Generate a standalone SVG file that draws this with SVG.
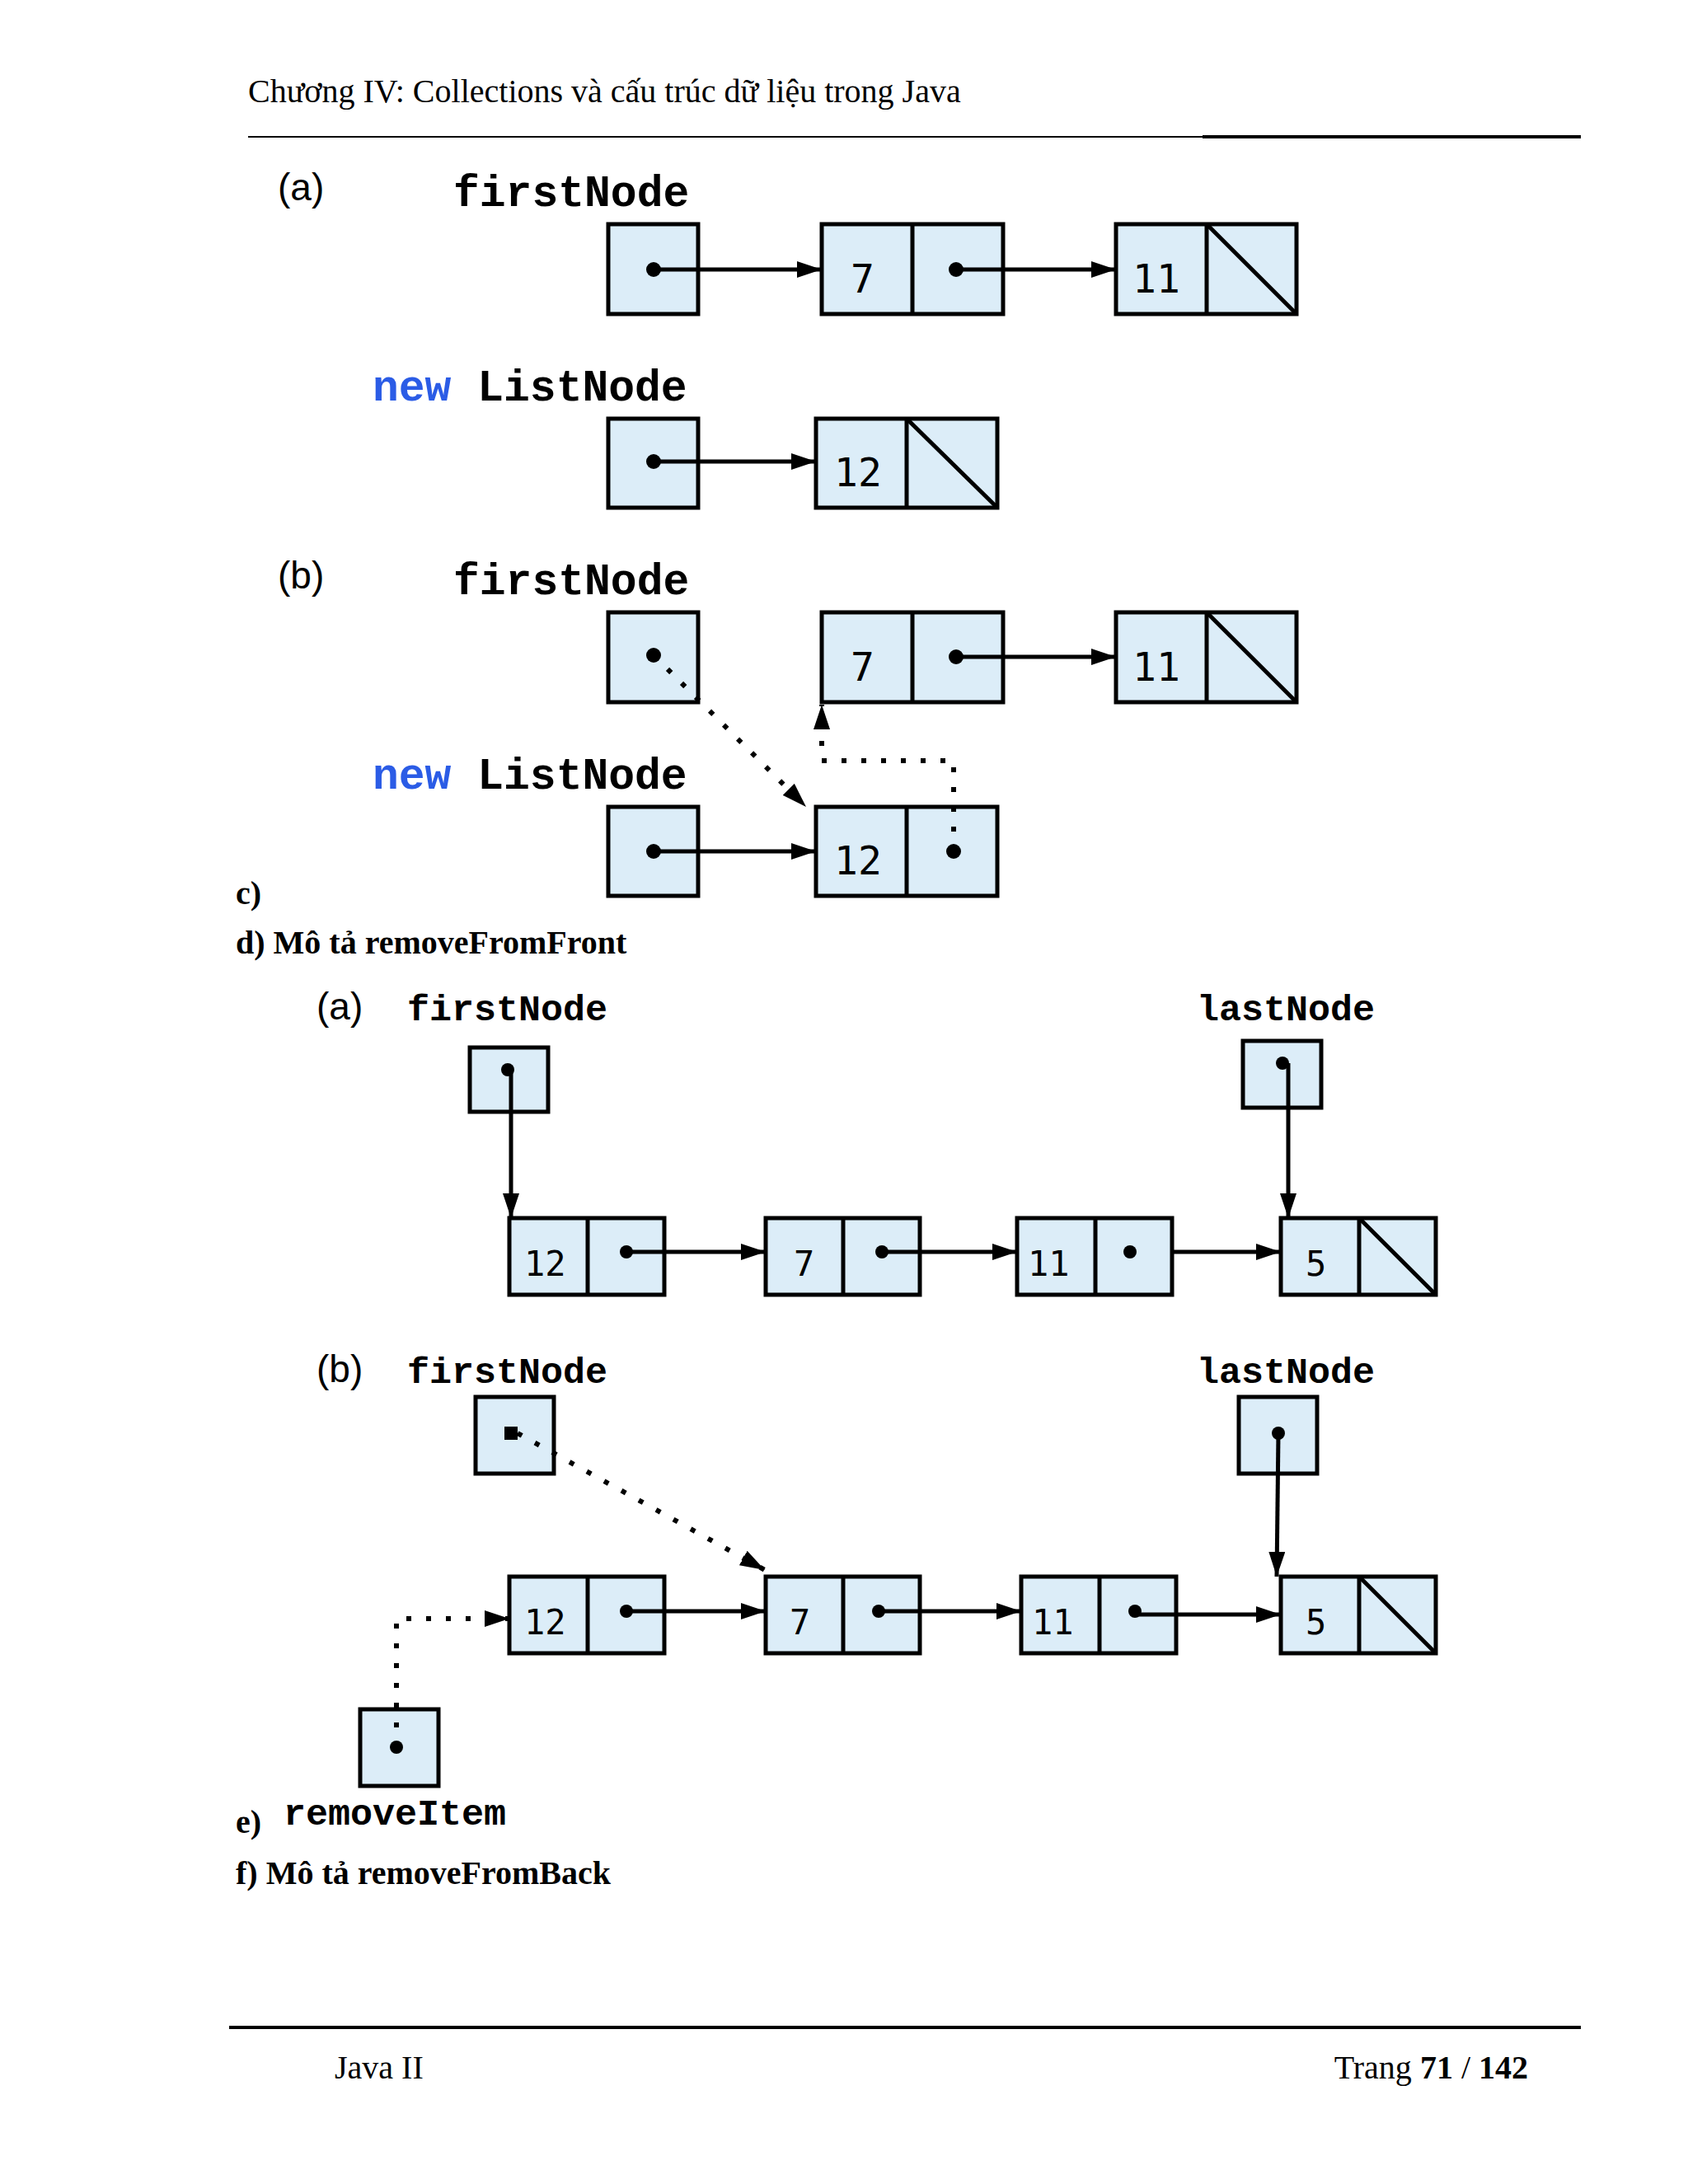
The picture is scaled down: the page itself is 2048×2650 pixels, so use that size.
<svg xmlns="http://www.w3.org/2000/svg" width="2048" height="2650" viewBox="0 0 2048 2650">
<style>
.bx{fill:#dcedf8;stroke:#000;stroke-width:5}
.dv{stroke:#000;stroke-width:5}
.ln{stroke:#000;stroke-width:5;fill:none}
.dt{stroke:#000;stroke-width:6;fill:none;stroke-dasharray:6 18}
.lb{font-family:"Liberation Mono",monospace;font-weight:bold;font-size:53px}
.lb2{font-family:"Liberation Mono",monospace;font-weight:bold;font-size:45px}
.num{font-family:"DejaVu Sans Mono",monospace;font-size:48px}
.num2{font-family:"DejaVu Sans Mono",monospace;font-size:42px}
.par{font-family:"Liberation Sans",sans-serif;font-size:46px}
.tm{font-family:"Liberation Serif",serif;font-size:40px}
.tb{font-family:"Liberation Serif",serif;font-size:40px;font-weight:bold}
</style>
<defs>
<marker id="ah" markerWidth="10" markerHeight="8" refX="9" refY="4" orient="auto" markerUnits="userSpaceOnUse" viewBox="0 0 10 8"><path d="M0,0 L10,4 L0,8z"/></marker>
<marker id="ahb" markerWidth="30" markerHeight="20" refX="30" refY="10" orient="auto" markerUnits="userSpaceOnUse"><path d="M0,0 L30,10 L0,20z"/></marker>
</defs>
<rect width="2048" height="2650" fill="#fff"/>
<g id="header">
<text x="301" y="124" class="tm">Chương IV: Collections và cấu trúc dữ liệu trong Java</text>
<line x1="301" y1="166" x2="1459" y2="166" stroke="#000" stroke-width="2"/>
<line x1="1459" y1="166" x2="1918" y2="166" stroke="#000" stroke-width="4"/>
</g>
<g id="labels">
<text x="337" y="243" class="par">(a)</text>
<text x="550" y="250" class="lb">firstNode</text>
<text x="452" y="486" class="lb"><tspan fill="#2b5ce6">new</tspan> ListNode</text>
<text x="337" y="714" class="par">(b)</text>
<text x="550" y="721" class="lb">firstNode</text>
<text x="452" y="957" class="lb"><tspan fill="#2b5ce6">new</tspan> ListNode</text>
<text x="286" y="1097" class="tb">c)</text>
<text x="286" y="1157" class="tb">d) Mô tả removeFromFront</text>
<text x="384" y="1237" class="par" font-size="40">(a)</text>
<text x="494" y="1238" class="lb2">firstNode</text>
<text x="1452" y="1238" class="lb2">lastNode</text>
<text x="384" y="1677" class="par" font-size="40">(b)</text>
<text x="494" y="1678" class="lb2">firstNode</text>
<text x="1452" y="1678" class="lb2">lastNode</text>
<text x="286" y="2224" class="tb">e)</text>
<text x="344" y="2214" class="lb2">removeItem</text>
<text x="286" y="2286" class="tb">f) Mô tả removeFromBack</text>
</g>
<g id="top-a">
<rect x="738" y="272" width="109" height="109" class="bx"/>
<rect x="997" y="272" width="220" height="109" class="bx"/><line x1="1107" y1="272" x2="1107" y2="381" class="dv"/>
<text x="1032" y="355" class="num">7</text>
<rect x="1354" y="272" width="219" height="109" class="bx"/><line x1="1464" y1="272" x2="1464" y2="381" class="dv"/><line x1="1464" y1="272" x2="1573" y2="381" class="dv"/>
<text x="1374" y="355" class="num">11</text>
<rect x="738" y="508" width="109" height="108" class="bx"/>
<rect x="990" y="508" width="220" height="108" class="bx"/><line x1="1100" y1="508" x2="1100" y2="616" class="dv"/><line x1="1100" y1="508" x2="1210" y2="616" class="dv"/>
<text x="1012" y="590" class="num">12</text>
</g>
<g id="top-b">
<rect x="738" y="743" width="109" height="109" class="bx"/>
<rect x="997" y="743" width="220" height="109" class="bx"/><line x1="1107" y1="743" x2="1107" y2="852" class="dv"/>
<text x="1032" y="826" class="num">7</text>
<rect x="1354" y="743" width="219" height="109" class="bx"/><line x1="1464" y1="743" x2="1464" y2="852" class="dv"/><line x1="1464" y1="743" x2="1573" y2="852" class="dv"/>
<text x="1374" y="826" class="num">11</text>
<rect x="738" y="979" width="109" height="108" class="bx"/>
<rect x="990" y="979" width="220" height="108" class="bx"/><line x1="1100" y1="979" x2="1100" y2="1087" class="dv"/>
<text x="1012" y="1061" class="num">12</text>
</g>
<g id="bottom-a">
<rect x="570" y="1271" width="95" height="78" class="bx"/>
<rect x="1508" y="1263" width="95" height="81" class="bx"/>
<rect x="618" y="1478" width="188" height="93" class="bx"/><line x1="713" y1="1478" x2="713" y2="1571" class="dv"/><text x="636" y="1548" class="num2">12</text>
<rect x="929" y="1478" width="187" height="93" class="bx"/><line x1="1023" y1="1478" x2="1023" y2="1571" class="dv"/><text x="963" y="1548" class="num2">7</text>
<rect x="1234" y="1478" width="188" height="93" class="bx"/><line x1="1329" y1="1478" x2="1329" y2="1571" class="dv"/><text x="1247" y="1548" class="num2">11</text>
<rect x="1554" y="1478" width="188" height="93" class="bx"/><line x1="1649" y1="1478" x2="1649" y2="1571" class="dv"/><line x1="1649" y1="1478" x2="1742" y2="1571" class="dv"/><text x="1584" y="1548" class="num2">5</text>
</g>
<g id="bottom-b">
<rect x="577" y="1695" width="95" height="93" class="bx"/>
<rect x="1503" y="1695" width="95" height="93" class="bx"/>
<rect x="437" y="2074" width="95" height="93" class="bx"/>
<rect x="618" y="1913" width="188" height="93" class="bx"/><line x1="713" y1="1913" x2="713" y2="2006" class="dv"/><text x="636" y="1983" class="num2">12</text>
<rect x="929" y="1913" width="187" height="93" class="bx"/><line x1="1023" y1="1913" x2="1023" y2="2006" class="dv"/><text x="958" y="1983" class="num2">7</text>
<rect x="1239" y="1913" width="188" height="93" class="bx"/><line x1="1334" y1="1913" x2="1334" y2="2006" class="dv"/><text x="1252" y="1983" class="num2">11</text>
<rect x="1554" y="1913" width="188" height="93" class="bx"/><line x1="1649" y1="1913" x2="1649" y2="2006" class="dv"/><line x1="1649" y1="1913" x2="1742" y2="2006" class="dv"/><text x="1584" y="1983" class="num2">5</text>
</g>
<g id="connectors">
<g fill="#000">
<circle cx="793" cy="327" r="9"/><circle cx="1160" cy="327" r="9"/>
<circle cx="793" cy="560" r="9"/>
<circle cx="793" cy="795" r="9"/><circle cx="1160" cy="797" r="9"/>
<circle cx="793" cy="1033" r="9"/><circle cx="1157" cy="1033" r="9"/>
<circle cx="616" cy="1298" r="8"/><circle cx="1556" cy="1290" r="8"/>
<circle cx="760" cy="1519" r="8"/><circle cx="1070" cy="1519" r="8"/><circle cx="1371" cy="1519" r="8"/>
<rect x="612" y="1731" width="16" height="16"/><circle cx="1551" cy="1739" r="8"/>
<circle cx="481" cy="2120" r="8"/>
<circle cx="760" cy="1955" r="8"/><circle cx="1066" cy="1955" r="8"/><circle cx="1377" cy="1955" r="8"/>
</g>
<line x1="793" y1="327" x2="997" y2="327" class="ln" marker-end="url(#ahb)"/>
<line x1="1160" y1="327" x2="1354" y2="327" class="ln" marker-end="url(#ahb)"/>
<line x1="793" y1="560" x2="990" y2="560" class="ln" marker-end="url(#ahb)"/>
<line x1="1160" y1="797" x2="1354" y2="797" class="ln" marker-end="url(#ahb)"/>
<line x1="793" y1="1033" x2="990" y2="1033" class="ln" marker-end="url(#ahb)"/>
<line x1="793" y1="795" x2="978" y2="979" class="dt" marker-end="url(#ahb)"/>
<polyline points="1157,1033 1157,923 997,923 997,855" class="dt" marker-end="url(#ahb)"/>
<line x1="620" y1="1298" x2="620" y2="1478" class="ln" marker-end="url(#ahb)"/>
<line x1="1563" y1="1290" x2="1563" y2="1478" class="ln" marker-end="url(#ahb)"/>
<line x1="760" y1="1519" x2="929" y2="1519" class="ln" marker-end="url(#ahb)"/>
<line x1="1070" y1="1519" x2="1234" y2="1519" class="ln" marker-end="url(#ahb)"/>
<line x1="1422" y1="1519" x2="1554" y2="1519" class="ln" marker-end="url(#ahb)"/>
<line x1="628" y1="1739" x2="928" y2="1905" class="dt" marker-end="url(#ahb)"/>
<line x1="1551" y1="1739" x2="1549" y2="1913" class="ln" marker-end="url(#ahb)"/>
<polyline points="481,2120 481,1964 618,1964" class="dt" marker-end="url(#ahb)"/>
<line x1="760" y1="1955" x2="929" y2="1955" class="ln" marker-end="url(#ahb)"/>
<line x1="1066" y1="1955" x2="1239" y2="1955" class="ln" marker-end="url(#ahb)"/>
<line x1="1377" y1="1959" x2="1554" y2="1959" class="ln" marker-end="url(#ahb)"/>
</g>
<g id="footer">
<line x1="278" y1="2460" x2="1918" y2="2460" stroke="#000" stroke-width="4"/>
<text x="406" y="2522" class="tm">Java II</text>
<text x="1854" y="2522" class="tm" text-anchor="end">Trang <tspan font-weight="bold">71</tspan> / <tspan font-weight="bold">142</tspan></text>
</g>
</svg>
